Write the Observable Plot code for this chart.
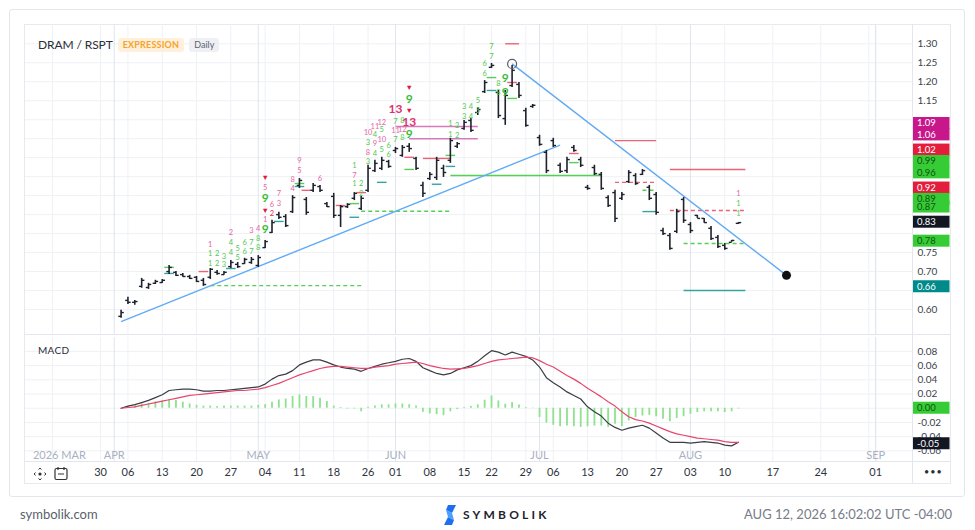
<!DOCTYPE html>
<html><head><meta charset="utf-8">
<script src="https://cdn.jsdelivr.net/npm/d3@7"></script>
<script src="https://cdn.jsdelivr.net/npm/@observablehq/plot@0.6"></script>
<style>
body{margin:0;background:#fff;font-family:Lato,"Noto Sans",sans-serif;}
#root{position:relative;width:975px;height:530px;overflow:hidden;background:#fff;}
.badge{display:inline-block;font-size:9px;padding:0 5px;height:14px;line-height:14px;border-radius:3px;margin-left:5px;vertical-align:middle;}
</style></head><body><div id="root"></div>
<script>
// ---------- calendar ----------
const holidays = ["2026-04-03","2026-05-25","2026-06-19","2026-07-03"];
const firstDay = "2026-03-30";
const lastBarDay = "2026-08-12";
const barStartDay = "2026-04-02";

// ---------- OHLC (DRAM / RSPT, daily) ----------
const opens = [0.582,0.624,0.619,0.661,0.658,0.669,0.671,0.700,0.698,0.692,
 0.687,0.685,0.677,0.685,0.698,0.692,0.713,0.719,0.721,0.724,
 0.716,0.763,0.803,0.850,0.845,0.858,0.927,0.890,0.914,0.924,
 0.879,0.898,0.848,0.871,0.893,0.866,0.914,0.966,0.972,0.990,
 1.019,1.006,1.030,0.998,0.927,0.945,0.948,0.972,0.993,1.030,
 1.077,1.098,1.119,1.174,1.238,1.172,1.103,1.190,1.193,1.124,
 1.135,1.053,1.014,1.045,0.980,0.966,1.027,0.995,0.922,0.974,
 0.956,0.895,0.908,0.893,0.937,0.953,0.956,0.922,0.903,0.808,
 0.795,0.806,0.890,0.824,0.848,0.840,0.814,0.790,0.769,0.777,
 0.827];
const highs = [0.598,0.632,0.624,0.682,0.669,0.677,0.679,0.716,0.700,0.695,
 0.690,0.687,0.682,0.708,0.703,0.700,0.729,0.724,0.735,0.737,
 0.742,0.782,0.835,0.856,0.850,0.900,0.945,0.895,0.932,0.927,
 0.882,0.906,0.874,0.879,0.908,0.898,0.980,0.993,1.001,0.993,
 1.027,1.032,1.037,1.001,0.935,0.961,1.001,0.980,1.051,1.040,
 1.098,1.103,1.132,1.203,1.248,1.177,1.177,1.243,1.198,1.130,
 1.140,1.059,1.019,1.051,0.985,1.001,1.032,1.001,0.927,0.980,
 0.961,0.900,0.914,0.908,0.966,0.958,0.969,0.927,0.908,0.814,
 0.800,0.864,0.895,0.829,0.848,0.840,0.819,0.795,0.774,0.782,
 0.829];
const lows = [0.577,0.613,0.611,0.656,0.653,0.666,0.669,0.692,0.687,0.685,
 0.679,0.671,0.661,0.679,0.690,0.690,0.708,0.708,0.719,0.719,
 0.711,0.761,0.800,0.837,0.816,0.853,0.919,0.848,0.908,0.908,
 0.869,0.840,0.816,0.866,0.887,0.861,0.908,0.961,0.966,0.972,
 1.011,1.001,1.014,0.966,0.895,0.940,0.940,0.948,0.985,1.024,
 1.072,1.066,1.111,1.169,1.235,1.103,1.085,1.185,1.156,1.080,
 1.130,1.030,0.958,1.027,0.958,0.958,1.014,0.974,0.914,0.953,
 0.914,0.869,0.829,0.887,0.932,0.927,0.953,0.887,0.848,0.795,
 0.756,0.800,0.827,0.800,0.840,0.827,0.782,0.761,0.756,0.777,
 0.824];
const closes = [0.592,0.619,0.621,0.677,0.666,0.674,0.677,0.711,0.690,0.687,
 0.682,0.674,0.666,0.706,0.695,0.698,0.724,0.713,0.732,0.732,
 0.737,0.779,0.829,0.843,0.821,0.895,0.940,0.856,0.927,0.914,
 0.871,0.848,0.871,0.877,0.906,0.893,0.972,0.985,0.993,0.977,
 1.024,1.027,1.024,0.972,0.906,0.956,0.993,0.961,1.045,1.037,
 1.093,1.072,1.127,1.198,1.243,1.111,1.164,1.230,1.164,1.085,
 1.138,1.035,0.966,1.032,0.964,0.995,1.019,0.980,0.919,0.958,
 0.919,0.874,0.840,0.903,0.961,0.932,0.966,0.893,0.856,0.800,
 0.761,0.858,0.835,0.808,0.840,0.829,0.787,0.766,0.761,0.782,
 0.829];

// ---------- MACD ----------
const macdLine = [0.000,0.003,0.005,0.008,0.011,0.015,0.019,0.025,0.026,0.027,
 0.027,0.026,0.024,0.024,0.025,0.025,0.026,0.027,0.028,0.029,
 0.030,0.034,0.041,0.046,0.048,0.053,0.061,0.065,0.068,0.068,
 0.065,0.061,0.058,0.056,0.055,0.052,0.056,0.059,0.062,0.064,
 0.066,0.069,0.070,0.066,0.057,0.053,0.049,0.047,0.049,0.054,
 0.057,0.060,0.066,0.074,0.081,0.079,0.075,0.079,0.076,0.073,
 0.068,0.058,0.043,0.036,0.030,0.023,0.018,0.013,0.002,-0.005,
 -0.011,-0.021,-0.027,-0.031,-0.028,-0.026,-0.024,-0.028,-0.035,-0.042,
 -0.048,-0.048,-0.048,-0.049,-0.048,-0.047,-0.048,-0.049,-0.052,-0.053,
 -0.048];
const signalLine = [0.000,0.001,0.002,0.004,0.006,0.008,0.010,0.012,0.014,0.016,
 0.018,0.019,0.020,0.021,0.022,0.023,0.024,0.025,0.025,0.026,
 0.027,0.029,0.032,0.035,0.039,0.043,0.047,0.050,0.053,0.056,
 0.058,0.059,0.059,0.058,0.057,0.056,0.056,0.058,0.059,0.060,
 0.062,0.063,0.064,0.065,0.063,0.060,0.058,0.056,0.055,0.0555,
 0.056,0.058,0.060,0.063,0.066,0.068,0.069,0.070,0.071,0.072,
 0.071,0.067,0.062,0.058,0.052,0.046,0.041,0.035,0.028,0.022,
 0.016,0.009,0.003,-0.005,-0.012,-0.016,-0.018,-0.021,-0.025,-0.029,
 -0.033,-0.036,-0.038,-0.040,-0.042,-0.043,-0.044,-0.045,-0.047,-0.048,
 -0.048];
const histogram = [0.000,0.002,0.004,0.006,0.007,0.009,0.010,0.012,0.011,0.0085,
 0.006,0.004,0.003,0.003,0.0023,0.003,0.003,0.003,0.003,0.003,
 0.004,0.005,0.0085,0.0117,0.013,0.0164,0.0188,0.0164,0.0164,0.014,
 0.0094,0.003,0.001,-0.001,-0.001,-0.005,0.0014,0.003,0.0047,0.0047,
 0.006,0.006,0.005,0.003,-0.0056,-0.008,-0.009,-0.0105,-0.005,-0.002,
 0.001,0.0023,0.0047,0.0113,0.0174,0.0103,0.0056,0.008,0.0047,0.001,
 -0.0005,-0.013,-0.021,-0.024,-0.026,-0.025,-0.026,-0.027,-0.026,-0.025,
 -0.025,-0.027,-0.0225,-0.026,-0.018,-0.013,-0.011,-0.010,-0.012,-0.0155,
 -0.019,-0.0146,-0.012,-0.0085,-0.006,-0.005,-0.005,-0.005,-0.006,-0.005,
 -0.001];

// ---------- axes / ticks ----------
const priceTicks = d3.range(0.60, 1.3001, 0.05);
const macdTicks = d3.range(-0.06, 0.0801, 0.02);
const weekTicks = ["2026-03-30","2026-04-06","2026-04-13","2026-04-20","2026-04-27","2026-05-04","2026-05-11","2026-05-18","2026-05-26","2026-06-01","2026-06-08","2026-06-15","2026-06-22","2026-06-29","2026-07-06","2026-07-13","2026-07-20","2026-07-27","2026-08-03","2026-08-10","2026-08-17","2026-08-24","2026-09-01"];
const extraGrid = ["2026-03-23","2026-08-31"];
const monthLines = ["2026-04-01","2026-05-01","2026-06-01","2026-07-01","2026-08-03","2026-09-01"];
const monthLabelDates = ["2026-03-24","2026-04-01","2026-05-01","2026-06-01","2026-07-01","2026-08-03","2026-09-01"];
const monthLabelText = ["2026 MAR","APR","MAY","JUN","JUL","AUG","SEP"];

// ---------- horizontal levels ----------
const levelStart = ["2026-04-22","2026-05-22","2026-06-01","2026-06-03","2026-06-24","2026-06-11","2026-07-17","2026-07-17","2026-07-29","2026-07-29","2026-07-31","2026-07-31","2026-06-05","2026-07-23","2026-07-23"];
const levelEnd   = ["2026-05-22","2026-06-11","2026-06-17","2026-06-17","2026-06-26","2026-07-15","2026-07-27","2026-07-27","2026-08-13","2026-08-13","2026-08-13","2026-08-13","2026-06-11","2026-07-27","2026-07-27"];
const levelPrice = [0.663,0.859,1.082,1.050,1.300,0.953,1.045,0.935,0.969,0.861,0.774,0.650,0.998,0.914,0.858];
const levelColor = ["green","green","magenta","magenta","red","green","red","red","red","red","green","teal","red","green","teal"];
const levelDashed = [true,true,false,false,false,false,false,true,false,true,true,false,false,true,false];

// short marker ticks
const tickDates = ["2026-04-14","2026-04-14","2026-04-21","2026-04-27","2026-05-06","2026-05-11","2026-05-11","2026-05-12","2026-05-19","2026-05-21","2026-05-21","2026-05-22","2026-05-28","2026-06-03","2026-06-03","2026-06-09","2026-06-11","2026-06-11","2026-06-22","2026-06-22","2026-06-25","2026-06-25","2026-07-09","2026-07-09"];
const tickPrices = [0.695,0.711,0.700,0.708,0.832,0.932,0.924,0.914,0.874,0.879,0.843,0.908,0.935,0.969,1.001,0.930,1.006,0.977,1.211,1.177,1.198,1.156,1.011,0.987];
const tickColors = ["teal","green","red","teal","teal","green","teal","red","red","green","teal","red","teal","green","red","teal","green","teal","green","teal","red","green","red","green"];

// trendlines
const trendStart = ["2026-04-02","2026-06-25"];
const trendStartPrice = [0.568,1.247];
const trendEnd = ["2026-07-07","2026-08-19"];
const trendEndPrice = [1.033,0.690];

// TD sequential counts (bar index, text, price, kind)
const tdBar = [13,13,13, 14,14, 15,15, 16,16,16, 17,17, 18,18, 19,19,19, 20,20,20, 21,21,21,21,21,21, 22,22, 23,23, 25,25, 26,26, 29, 34,34,34, 35,35, 36,36,36,36, 37,37,37,37, 38,38,38,38, 39,39, 40,40,40,40, 41,41,41, 42,42,42,42,42, 48,48, 49,49, 50,50, 51,51, 52,52, 53,53, 54,54, 55,55, 56,56, 90,90,90];
const tdText = ["1","1","1", "2","2", "3","3", "2","4","4", "5","5", "6","6", "3","7","7", "4","8","8", "▼","5","9","▼","1","9", "6","2", "7","3", "8","4", "9","5", "6", "1","7","1", "2","2", "10","3","8","3", "11","4","9","4", "12","5","10","5", "6","6", "13","7","11","7", "8","12","8", "▼","9","▼","13","9", "1","1", "2","2", "3","3", "4","4", "5","5", "6","6", "7","7", "8","8", "9","9", "1","1","1"];
const tdPrice = [0.771,0.748,0.721, 0.748,0.721, 0.740,0.719, 0.803,0.777,0.751, 0.761,0.737, 0.777,0.753, 0.808,0.777,0.753, 0.814,0.787,0.763, 0.948,0.922,0.893,0.861,0.837,0.811, 0.877,0.853, 0.906,0.879, 0.943,0.919, 0.993,0.966, 0.945, 0.980,0.953,0.932, 0.932,0.906, 1.066,1.040,1.014,0.990, 1.082,1.061,1.037,1.011, 1.093,1.074,1.048,1.022, 1.032,1.008, 1.127,1.095,1.072,1.048, 1.098,1.074,1.053, 1.185,1.153,1.124,1.093,1.061, 1.090,1.061, 1.085,1.059, 1.135,1.109, 1.135,1.109, 1.151,1.124, 1.248,1.222, 1.293,1.267, 1.196,1.172, 1.209,1.172, 0.906,0.879,0.853];
const tdKind = ["p","g","g", "g","g", "g","g", "p","g","g", "g","g", "g","g", "p","g","g", "p","g","g", "t","p","G","t","p","G", "p","r", "p","p", "p","p", "p","p", "p", "g","p","g", "g","g", "p","g","p","g", "p","g","p","g", "p","g","p","g", "g","g", "P","g","p","g", "g","p","g", "t","G","t","P","G", "g","g", "g","g", "g","g", "g","g", "g","g", "g","g", "g","g", "g","g", "G","G", "p","g","g"];

// right-hand value tags
const priceTagValues = [1.09,1.06,1.02,0.99,0.96,0.92,0.89,0.87,0.83,0.78,0.66];
const priceTagColors = ["#c8178a","#c8178a","#e31e3d","#35cc35","#35cc35","#e31e3d","#35cc35","#35cc35","#131722","#35cc35","#008a8a"];
const macdTagValues = [0.00,-0.05];
const macdTagColors = ["#35cc35","#131722"];

// ---------- helpers ----------
const parse = d3.utcParse("%Y-%m-%d");
const fmt = d3.utcFormat("%Y-%m-%d");
const tradingDays = d3.utcDays(parse(firstDay), d3.utcDay.offset(parse(lastBarDay), 1))
  .filter(d => d.getUTCDay() % 6 !== 0 && !holidays.includes(fmt(d))).map(fmt);
function slotOf(s) {
  const i = tradingDays.indexOf(s);
  if (i >= 0) return i;
  const d = parse(s);
  if (d < parse(firstDay)) return -d3.utcDay.count(d, parse(firstDay));
  return tradingDays.length - 1 + d3.utcDay.count(parse(lastBarDay), d);
}
const barStartSlot = slotOf(barStartDay);
const palette = {green:"#55cf55", magenta:"#d67abb", red:"#ee6275", teal:"#35a3a3"};
const kindColor = {g:"#4fc94f", p:"#e565a6", r:"#e8283f", G:"#38be38", P:"#de2f70", t:"#e2193f"};

const bars = opens.map((o, i) => ({slot: barStartSlot + i, o, h: highs[i], l: lows[i], c: closes[i]}));
const macdData = macdLine.map((m, i) => ({slot: barStartSlot + i, m, s: signalLine[i], h: histogram[i]}));
const levels = levelPrice.map((p, i) => ({x1: slotOf(levelStart[i]), x2: slotOf(levelEnd[i]), p, color: palette[levelColor[i]], dashed: levelDashed[i]}));
const ticks = tickPrices.map((p, i) => ({x: slotOf(tickDates[i]), p, color: palette[tickColors[i]]}));
const trends = trendStart.map((d, i) => ({x1: slotOf(d), y1: trendStartPrice[i], x2: slotOf(trendEnd[i]), y2: trendEndPrice[i]}));
const td = tdBar.map((b, i) => ({x: barStartSlot + b, text: tdText[i], y: tdPrice[i], kind: tdKind[i]}));
const weekGrid = weekTicks.concat(extraGrid).map(slotOf);
const monthGrid = monthLines.map(slotOf);
const monthLabels = monthLabelDates.map((d, i) => ({x: slotOf(d), text: monthLabelText[i]}));

const xDomain = [-10.933, 118.367];
const PW = 925, MR = 38;
const font = "Lato, 'Noto Sans', sans-serif";
const root = document.getElementById("root");
function place(el, left, top) { el.style.position = "absolute"; el.style.left = left + "px"; el.style.top = top + "px"; root.appendChild(el); return el; }
function div(html, left, top, style) { const e = document.createElement("div"); e.innerHTML = html; e.setAttribute("style", style || ""); return place(e, left, top); }

// axis labels that a value tag hides are left out (the tag shows instead)
function visibleTicks(tickVals, tagVals, tol) {
  return tickVals.filter(t => !tagVals.some(v => Math.abs(v - t) < tol) && !(tagVals.filter(v => Math.abs(v - t) < 0.03).length >= 2 && tagVals.some(v => v > t) && tagVals.some(v => v < t)));
}

// cards
div("", 9, 9, "width:956px;height:488px;border:1px solid #e3e6eb;border-radius:3px;box-sizing:border-box;");
div("", 24, 24, "width:927px;height:460px;border:1px solid #e6e9ef;box-sizing:border-box;");

// ---------- price panel ----------
const pricePlot = Plot.plot({
  width: PW, height: 310, marginLeft: 0, marginRight: MR, marginTop: 0, marginBottom: 0,
  x: {domain: xDomain, axis: null},
  y: {domain: [0.5342, 1.3508], axis: null},
  style: {fontFamily: font, background: "transparent", overflow: "visible"},
  marks: [
    Plot.ruleY(priceTicks, {stroke: "#eff1f5"}),
    Plot.ruleX(weekGrid, {stroke: "#eff1f5"}),
    Plot.ruleX(monthGrid, {stroke: "#e0e4ec"}),
    Plot.axisY(visibleTicks(priceTicks, priceTagValues, 0.0105), {anchor: "right", tickSize: 0, tickPadding: 5, tickFormat: d => d.toFixed(2), fontSize: 10, fill: "#3a3f4b"}),
    Plot.link(levels.filter(d => !d.dashed), {x1: "x1", x2: "x2", y1: "p", y2: "p", stroke: "color", strokeWidth: 1.4}),
    Plot.link(levels.filter(d => d.dashed), {x1: "x1", x2: "x2", y1: "p", y2: "p", stroke: "color", strokeWidth: 1.4, strokeDasharray: "4,3"}),
    Plot.link(ticks, {x1: d => d.x - 0.7, x2: d => d.x + 0.7, y1: "p", y2: "p", stroke: "color", strokeWidth: 1.4}),
    Plot.link(trends, {x1: "x1", y1: "y1", x2: "x2", y2: "y2", stroke: "#62abf2", strokeWidth: 1.4}),
    Plot.ruleX(bars, {x: "slot", y1: "l", y2: "h", stroke: "#1e222d", strokeWidth: 1.6}),
    Plot.link(bars, {x1: d => d.slot - 0.4, x2: "slot", y1: "o", y2: "o", stroke: "#1e222d", strokeWidth: 1.4}),
    Plot.link(bars, {x1: "slot", x2: d => d.slot + 0.4, y1: "c", y2: "c", stroke: "#1e222d", strokeWidth: 1.4}),
    Plot.dot(trends.slice(1), {x: "x1", y: "y1", r: 4.5, stroke: "#5a5e66", fill: "none", strokeWidth: 1.2}),
    Plot.dot(trends.slice(1), {x: "x2", y: "y2", r: 4.5, fill: "#111", stroke: "none"}),
    Plot.text(td.filter(d => "gprt".includes(d.kind)), {x: "x", y: "y", text: "text", fill: d => kindColor[d.kind], fontSize: 7.5}),
    Plot.text(td.filter(d => "GP".includes(d.kind)), {x: "x", y: "y", text: "text", fill: d => kindColor[d.kind], fontSize: 12, fontWeight: "bold"})
  ]
});
place(pricePlot, 25, 24);

function addTags(plot, values, colors) {
  const y = plot.scale("y");
  const g = d3.select(plot).append("g").attr("text-anchor", "start");
  values.forEach((v, i) => {
    const cy = y.apply(v);
    g.append("rect").attr("x", PW - MR + 0.5).attr("y", cy - 6).attr("width", 37).attr("height", 12).attr("fill", colors[i]);
  });
  values.forEach((v, i) => {
    const cy = y.apply(v);
    g.append("text").attr("x", PW - MR + 5).attr("y", cy).attr("dy", "0.35em").attr("font-size", 9.5).attr("font-family", font)
      .attr("text-anchor", "start")
      .attr("fill", colors[i] === "#35cc35" ? "#145214" : "#fff").text(v.toFixed(2));
  });
}
addTags(pricePlot, priceTagValues, priceTagColors);

// ---------- MACD panel ----------
const macdPlot = Plot.plot({
  width: PW, height: 124, marginLeft: 0, marginRight: MR, marginTop: 0, marginBottom: 0,
  x: {domain: xDomain, axis: null},
  y: {domain: [-0.0750, 0.0996], axis: null},
  style: {fontFamily: font, background: "transparent", overflow: "visible"},
  marks: [
    Plot.ruleY(macdTicks, {stroke: "#eff1f5"}),
    Plot.ruleX(weekGrid, {stroke: "#eff1f5"}),
    Plot.ruleX(monthGrid, {stroke: "#e0e4ec"}),
    Plot.axisY(macdTicks.filter(t => !macdTagValues.some(v => Math.abs(v - t) < 0.005)), {anchor: "right", tickSize: 0, tickPadding: 5, tickFormat: d => d.toFixed(2), fontSize: 10, fill: "#3a3f4b"}),
    Plot.ruleX(macdData, {x: "slot", y1: 0, y2: "h", stroke: "#8ee28e", strokeWidth: 1.8}),
    Plot.line(macdData, {x: "slot", y: "m", stroke: "#3a3d44", strokeWidth: 1.2}),
    Plot.line(macdData, {x: "slot", y: "s", stroke: "#e8456d", strokeWidth: 1.2}),
    Plot.text(monthLabels, {x: "x", text: "text", frameAnchor: "bottom", dy: -3, fill: "#a8b0c3", fontSize: 11})
  ]
});
place(macdPlot, 25, 337);
addTags(macdPlot, macdTagValues, macdTagColors);

// ---------- date row ----------
const datePlot = Plot.plot({
  width: PW, height: 22, marginLeft: 0, marginRight: MR, marginTop: 0, marginBottom: 0,
  x: {domain: xDomain, axis: null},
  style: {fontFamily: font, background: "transparent", overflow: "visible"},
  marks: [
    Plot.text(weekTicks, {x: d => slotOf(d), text: d => d.slice(8), frameAnchor: "middle", fill: "#2f3340", fontSize: 11})
  ]
});
place(datePlot, 25, 461);

// separators
div("", 25, 334, "width:925px;height:0;border-top:1px solid #e3e6ec;");
div("", 25, 461, "width:925px;height:0;border-top:1px solid #e3e6ec;");
div("", 912, 24, "width:0;height:459px;border-left:1px solid #e3e6ec;");

// header
div('<span style="font-size:12px;letter-spacing:-0.1px;color:#2a2e39;vertical-align:middle;">DRAM / RSPT</span>' +
  '<span class="badge" style="background:#fff0dc;color:#f5a32a;font-weight:700;letter-spacing:0.2px;">EXPRESSION</span>' +
  '<span class="badge" style="background:#eef0f4;color:#5d6270;">Daily</span>', 38, 33, "white-space:nowrap;");
div("MACD", 38, 344, "font-size:10px;color:#2a2e39;letter-spacing:0.3px;");

// bottom controls
div('<svg width="14" height="14" viewBox="0 0 14 14"><circle cx="7" cy="7" r="1.6" fill="#333"/><path d="M7 1 L5.6 2.6 M7 1 L8.4 2.6 M7 13 L5.6 11.4 M7 13 L8.4 11.4 M1 7 L2.6 5.6 M1 7 L2.6 8.4 M13 7 L11.4 5.6 M13 7 L11.4 8.4" stroke="#333" stroke-width="1" fill="none"/></svg>', 33, 465, "");
div('<svg width="14" height="15" viewBox="0 0 14 15"><rect x="1" y="2.5" width="12" height="11" rx="1.5" fill="none" stroke="#333" stroke-width="1.2"/><path d="M4 1 V4 M10 1 V4 M4 8 H10" stroke="#333" stroke-width="1.2"/></svg>', 54, 465, "");
div("•••", 924, 466, "font-size:9px;color:#2a2e39;letter-spacing:1px;");

// footer
div("symbolik.com", 20, 506, "font-size:13px;color:#5a5f6b;");
div('<svg width="14" height="20" viewBox="0 0 14 20" style="vertical-align:middle"><path d="M5 0 H13 L9 8 L3 5 Z" fill="#1e6ff0"/><path d="M9 20 H1 L5 12 L11 15 Z" fill="#1e6ff0"/><path d="M3 5 L9 8 L11 15 L5 12 Z" fill="#4aa0ff"/></svg><span style="font-size:12px;font-weight:700;color:#1f2330;letter-spacing:3.2px;margin-left:6px;vertical-align:middle;">SYMBOLIK</span>', 443, 503, "white-space:nowrap;");
div("AUG 12, 2026 16:02:02 UTC -04:00", 0, 506, "font-size:13px;color:#777c88;width:952px;text-align:right;");
</script>
</body></html>
